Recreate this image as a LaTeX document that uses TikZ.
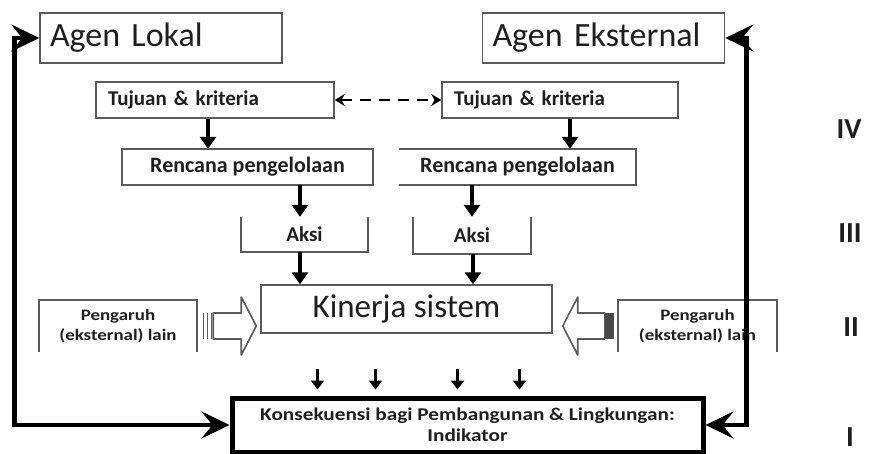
\documentclass[tikz,border=0pt]{standalone}
\usepackage{fontspec}
\setmainfont{Carlito}
\newfontfamily\widefont[FakeStretch=1.18]{Carlito}
\usetikzlibrary{positioning,arrows.meta}
\definecolor{boxgray}{HTML}{5A5A5A}
\definecolor{inkgray}{HTML}{1E1E1E}
\tikzset{
  flowarrow/.style={-{Triangle[length=12pt,width=16pt]}, line width=3.8pt},
  smallarrow/.style={-{Triangle[length=9pt,width=13pt]}, line width=2.8pt},
  looparrow/.style={{Stealth[length=28pt,width=27pt,inset=11pt]}-{Stealth[length=28pt,width=27pt,inset=11pt]}, line width=4.5pt},
  dasharrow/.style={{Stealth[length=10pt,width=12pt]}-{Stealth[length=10pt,width=12pt]}, line width=2.8pt, dash pattern=on 11pt off 8pt},
  hollow/.style={draw=boxgray, line width=1.6pt, fill=white, line join=round},
  agenbox/.style={draw=boxgray, line width=1.5pt, minimum height=50, inner xsep=10, text width=222, align=left, font=\fontsize{34}{38}\selectfont},
  goalbox/.style={draw=boxgray, line width=1.5pt, minimum height=36, inner xsep=12, text width=214, align=left, font=\bfseries\fontsize{21}{24}\selectfont},
  planbox/.style={minimum height=36, inner sep=0pt, font=\bfseries\fontsize{22}{25}\selectfont},
  actbox/.style={minimum height=35, inner sep=0pt, font=\bfseries\fontsize{21}{24}\selectfont},
  sysbox/.style={draw=boxgray, line width=1.5pt, minimum width=291, minimum height=48, font=\fontsize{33}{36}\selectfont},
  infbox/.style={minimum width=158, minimum height=52, inner sep=0pt, align=center, font=\widefont\bfseries\fontsize{16}{20}\selectfont},
  outbox/.style={draw=black, line width=5pt, minimum width=471, minimum height=54, inner sep=0pt, align=center, font=\widefont\bfseries\fontsize{18}{21}\selectfont},
  levellabel/.style={font=\bfseries\fontsize{29}{32}\selectfont}
}
\begin{document}
\begin{tikzpicture}[x=1pt, y=-1pt, every node/.style={text=inkgray}]
  \useasboundingbox (0,0) rectangle (869,454);
  % agents
  \node[agenbox] (agenL) at (161,38) {Agen Lokal};
  \node[agenbox] (agenE) at (603.5,38) {Agen Eksternal};
  \node[goalbox] (tujL) at (215,100) {Tujuan \& kriteria};
  \node[goalbox, text width=212] (tujR) at (560,100) {Tujuan \& kriteria};
  \node[planbox, minimum width=251] (renL) at (247.5,167) {Rencana pengelolaan};
  \node[planbox, minimum width=237] (renR) at (517.5,167) {Rencana pengelolaan};
  \node[actbox, minimum width=127] (aksiL) at (304.5,234.5) {Aksi};
  \node[actbox, minimum width=118, minimum height=37] (aksiR) at (472,235.5) {Aksi};
  \node[sysbox] (kin) at (406.5,309) {Kinerja sistem};
  \node[infbox] (pengL) at (118,326) {Pengaruh\\(eksternal) lain};
  \node[infbox, minimum width=159] (pengR) at (697.5,326) {Pengaruh\\(eksternal) lain};
  \node[outbox] (kons) at (467.5,425) {Konsekuensi bagi Pembangunan \& Lingkungan:\\Indikator};
  % levels
  \node[levellabel] (lvIV) at (849,129) {IV};
  \node[levellabel] (lvIII) at (850,233) {III};
  \node[levellabel] (lvII) at (851,327) {II};
  \node[levellabel, inner sep=1pt] (lvI) at (850,437) {I};
  % open outlines
  \draw[boxgray, line width=1.5pt] (renL.north west) rectangle (renL.south east);
  \draw[boxgray, line width=1.5pt] (renR.north west) -- (renR.north east) -- (renR.south east) -- (renR.south west);
  \draw[boxgray, line width=1.5pt] (aksiL.north west) |- (aksiL.south east) -- (aksiL.north east);
  \draw[boxgray, line width=1.5pt] (aksiR.north west) |- (aksiR.south east) -- (aksiR.north east);
  \draw[boxgray, line width=1.5pt] (pengL.south west) |- (pengL.north east) -- (pengL.south east);
  \draw[boxgray, line width=1.5pt] (pengR.south west) |- (pengR.north east) -- (pengR.south east);
  % flow
  \draw[dasharrow] (tujL.east) -- (tujR.west);
  \draw[flowarrow] ([xshift=-7]tujL.south) -- ([xshift=-39.5]renL.north);
  \draw[flowarrow] ([xshift=10]tujR.south) -- ([xshift=52.5]renR.north);
  \draw[flowarrow] ([xshift=52.5]renL.south) -- ([xshift=-4.5]aksiL.north);
  \draw[flowarrow] ([xshift=-45.5]renR.south) -- (aksiR.north);
  \draw[flowarrow] ([xshift=-4.5]aksiL.south) -- ([xshift=-106.5]kin.north);
  \draw[flowarrow] ([xshift=1]aksiR.south) -- ([xshift=66.5]kin.north);
  \foreach \dx in {-150,-92,-10,52}
    \draw[smallarrow] ([xshift=\dx]kons.north) ++(0,-27) -- ++(0,21);
  % other influences
  \coordinate (tipL) at (kin.west |- pengL.east);
  \coordinate (tipR) at (kin.east |- pengR.west);
  \draw[hollow] ([shift={(16,-13)}]pengL.east) -- ([shift={(-19,-13)}]tipL) -- ([shift={(-19,-29)}]tipL)
    -- ([xshift=-4]tipL) -- ([shift={(-19,29)}]tipL) -- ([shift={(-19,13)}]tipL) -- ([shift={(16,13)}]pengL.east) -- cycle;
  \foreach \dx in {6,10,14}
    \draw[boxgray, line width=1.2pt] ([shift={(\dx,-13)}]pengL.east) -- ([shift={(\dx,13)}]pengL.east);
  \draw[hollow] ([shift={(-13,-13)}]pengR.west) -- ([shift={(25,-13)}]tipR) -- ([shift={(25,-29)}]tipR)
    -- ([xshift=10]tipR) -- ([shift={(25,29)}]tipR) -- ([shift={(25,13)}]tipR) -- ([shift={(-13,13)}]pengR.west) -- cycle;
  \fill[boxgray!80!black] ([shift={(-13,-13)}]pengR.west) rectangle ([shift={(-4,13)}]pengR.west);
  % feedback
  \draw[looparrow] (agenL.west) -- ++(-25,0) |- (kons.west);
  \draw[looparrow] (agenE.east) -- ++(21,0) |- (kons.east);
\end{tikzpicture}
\end{document}
